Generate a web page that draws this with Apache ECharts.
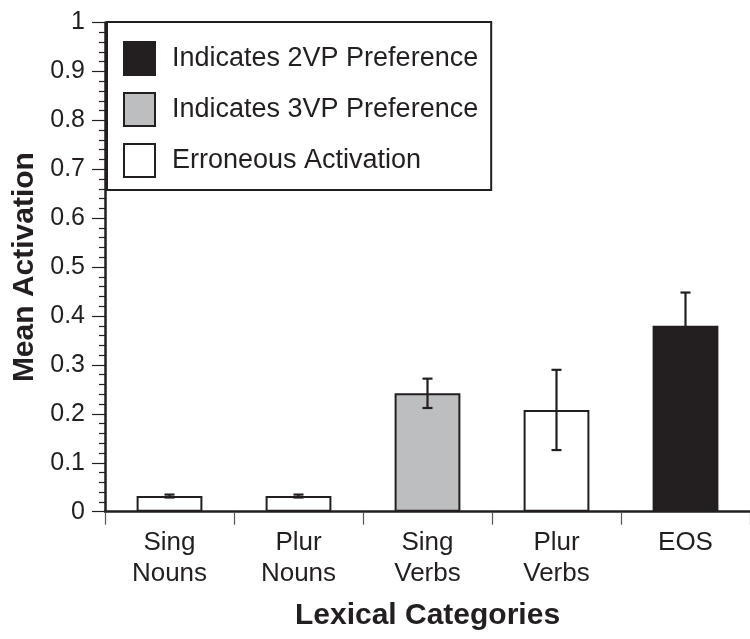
<!DOCTYPE html>
<html>
<head>
<meta charset="utf-8">
<script src="https://cdn.jsdelivr.net/npm/echarts@6/dist/echarts.min.js"></script>
<style>html,body{margin:0;padding:0;background:#fff}#c{width:750px;height:639px}</style>
</head>
<body>
<div id="c"></div>
<script>
var categories = ['Sing\nNouns', 'Plur\nNouns', 'Sing\nVerbs', 'Plur\nVerbs', 'EOS'];
var meanActivation = [0.032, 0.032, 0.242, 0.208, 0.380];
var errorHalf = [0.003, 0.003, 0.030, 0.082, 0.068];
var barType = ['err', 'err', '3vp', 'err', '2vp'];
var legendNames = {
  '2vp': 'Indicates 2VP Preference',
  '3vp': 'Indicates 3VP Preference',
  'err': 'Erroneous Activation'
};
var yTicks = [0, 0.1, 0.2, 0.3, 0.4, 0.5, 0.6, 0.7, 0.8, 0.9, 1];

var DARK = '#231f20';
var FONT = "'Liberation Sans', Arial, Helvetica, sans-serif";
var styles = {
  '2vp': { color: DARK, borderColor: DARK, borderWidth: 2 },
  '3vp': { color: '#bcbec0', borderColor: DARK, borderWidth: 2 },
  'err': { color: '#ffffff', borderColor: DARK, borderWidth: 2 }
};

function seriesFor(key) {
  return {
    name: legendNames[key],
    type: 'bar',
    stack: 'all',
    barWidth: '51%',
    itemStyle: styles[key],
    emphasis: { disabled: true },
    data: meanActivation.map(function (v, i) { return barType[i] === key ? v : null; })
  };
}

var errData = meanActivation.map(function (v, i) { return [i, v - errorHalf[i], v + errorHalf[i]]; });

var chart = echarts.init(document.getElementById('c'), null, { renderer: 'canvas' });
chart.setOption({
  animation: false,
  backgroundColor: '#fff',
  textStyle: { fontFamily: FONT, color: DARK },
  grid: { left: 105, right: -8, top: 22.5, bottom: 127.3, containLabel: false },
  legend: {
    orient: 'vertical',
    left: 107,
    top: 22,
    padding: [19, 13, 12, 16],
    itemWidth: 31,
    itemHeight: 33,
    itemGap: 16,
    icon: 'rect',
    backgroundColor: '#fff',
    borderColor: DARK,
    borderWidth: 2,
    selectedMode: false,
    textStyle: { fontFamily: FONT, fontSize: 27, color: DARK, padding: [0, 0, 0, 12] },
    data: [legendNames['2vp'], legendNames['3vp'], legendNames['err']]
  },
  xAxis: {
    type: 'category',
    data: categories,
    boundaryGap: true,
    name: 'Lexical Categories',
    nameLocation: 'middle',
    nameGap: 89,
    nameTextStyle: { fontFamily: FONT, fontSize: 30, fontWeight: 'bold', color: DARK },
    axisLine: { lineStyle: { color: DARK, width: 2.5 } },
    axisTick: { show: true, interval: 0, length: 13, lineStyle: { color: '#555', width: 1.2 } },
    axisLabel: { fontFamily: FONT, fontSize: 26, color: DARK, lineHeight: 31, margin: 16, interval: 0 },
    splitLine: { show: false }
  },
  yAxis: {
    type: 'value',
    min: 0,
    max: 1,
    interval: 0.1,
    name: 'Mean Activation',
    nameLocation: 'middle',
    nameGap: 62,
    nameTextStyle: { fontFamily: FONT, fontSize: 30, fontWeight: 'bold', color: DARK },
    axisLine: { show: true, lineStyle: { color: DARK, width: 2.5 } },
    axisTick: { show: true, length: 13, lineStyle: { color: DARK, width: 1.2 } },
    minorTick: { show: true, splitNumber: 5, length: 6, lineStyle: { color: DARK, width: 1.2 } },
    axisLabel: { fontFamily: FONT, fontSize: 25, color: DARK, margin: 20,
      formatter: function (v) { return String(Math.round(v * 10) / 10); } },
    splitLine: { show: false }
  },
  series: [
    seriesFor('2vp'),
    seriesFor('3vp'),
    seriesFor('err'),
    {
      type: 'custom',
      name: 'error',
      z: 10,
      renderItem: function (params, api) {
        var x = api.value(0);
        var lo = api.coord([x, api.value(1)]);
        var hi = api.coord([x, api.value(2)]);
        var cap = 5;
        var st = { stroke: DARK, lineWidth: 2.2, fill: null };
        return {
          type: 'group',
          children: [
            { type: 'line', shape: { x1: hi[0], y1: hi[1], x2: lo[0], y2: lo[1] }, style: st },
            { type: 'line', shape: { x1: hi[0] - cap, y1: hi[1], x2: hi[0] + cap, y2: hi[1] }, style: st },
            { type: 'line', shape: { x1: lo[0] - cap, y1: lo[1], x2: lo[0] + cap, y2: lo[1] }, style: st }
          ]
        };
      },
      encode: { x: 0, y: [1, 2] },
      data: errData
    }
  ]
});
</script>
</body>
</html>
